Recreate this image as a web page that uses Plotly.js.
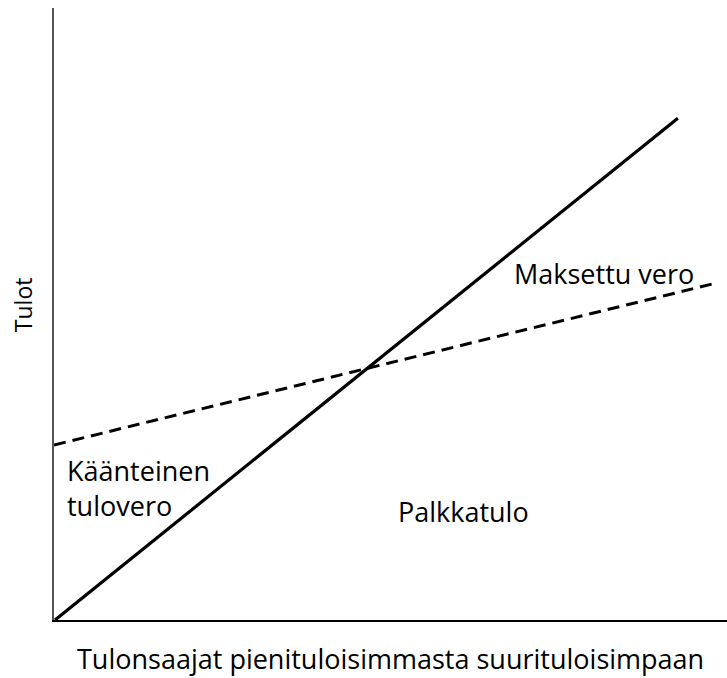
<!DOCTYPE html>
<html><head><meta charset="utf-8">
<script src="https://cdn.plot.ly/plotly-3.0.1.min.js"></script>
<style>body{margin:0;background:#fff}#c{width:727px;height:678px}</style>
</head><body><div id="c"></div>
<script>
const solidX = [0.15, 92.7];
const solidY = [0, 82.0];
const dashX = [0, 97.8];
const dashY = [28.6, 54.9];
const labelTexts = ["Maksettu vero", "Käänteinen<br>tulovero", "Palkkatulo"];
const labelX = [68.0, 1.6, 50.8];
const labelY = [56.6, 21.6, 17.8];
const xTitle = "Tulonsaajat pienituloisimmasta suurituloisimpaan";
const yTitle = "Tulot";

const font = "Open Sans, Noto Sans, sans-serif";
const data = [
  {x: dashX, y: dashY, mode: "lines", line: {color: "#000", width: 3, dash: "12px,7px"}, hoverinfo: "skip"},
  {x: solidX, y: solidY, mode: "lines", line: {color: "#000", width: 3.2}, hoverinfo: "skip"}
];
const annotations = labelTexts.map((t, i) => ({
  x: labelX[i], y: labelY[i], xref: "x", yref: "y", text: t, showarrow: false,
  xanchor: "left", yanchor: "middle", align: "left",
  font: {size: 27, color: "#000", family: font}
}));
annotations.push({
  x: 0.5, y: -0.063, xref: "paper", yref: "paper", text: xTitle, showarrow: false,
  xanchor: "center", yanchor: "middle", font: {size: 27, color: "#000", family: font}
});
annotations.push({
  x: -0.047, y: 0.515, xref: "paper", yref: "paper", text: yTitle, showarrow: false,
  textangle: -90, xanchor: "center", yanchor: "middle", font: {size: 23, color: "#000", family: font}
});
const layout = {
  width: 727, height: 678,
  margin: {l: 54, r: 0, t: 8, b: 58},
  showlegend: false,
  paper_bgcolor: "#fff", plot_bgcolor: "#fff",
  font: {family: font, color: "#000"},
  xaxis: {range: [0, 100], showgrid: false, zeroline: false, showticklabels: false, ticks: "",
    showline: true, linecolor: "#000", linewidth: 2},
  yaxis: {range: [0, 100], showgrid: false, zeroline: false, showticklabels: false, ticks: "",
    showline: true, linecolor: "#555", linewidth: 2},
  annotations: annotations
};
Plotly.newPlot("c", data, layout, {displayModeBar: false, staticPlot: true});
</script></body></html>
